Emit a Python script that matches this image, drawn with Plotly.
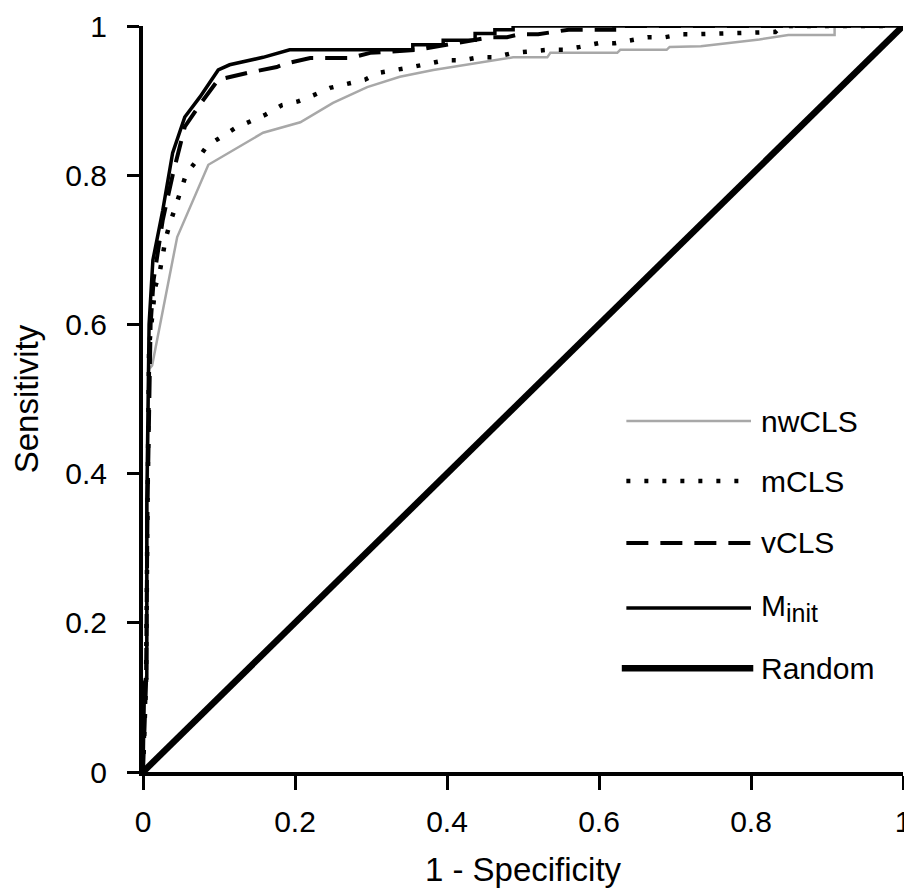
import plotly.graph_objects as go

# ---- data ----
x_ticks = [0, 0.2, 0.4, 0.6, 0.8, 1]
x_ticktext = ["0", "0.2", "0.4", "0.6", "0.8", "1"]
y_ticks = [0, 0.2, 0.4, 0.6, 0.8, 1]
y_ticktext = ["0", "0.2", "0.4", "0.6", "0.8", "1"]

series_names = ["nwCLS", "mCLS", "vCLS",
                'M<sub><span style="font-size:25px">init</span></sub>', "Random"]

fpr_nwcls = [0, 0.0, 0.005, 0.006, 0.008, 0.012, 0.039, 0.045, 0.086, 0.158, 0.207, 0.25, 0.295,
             0.338, 0.382, 0.426, 0.461, 0.487, 0.532, 0.536, 0.624, 0.628, 0.689, 0.693, 0.734,
             0.772, 0.811, 0.849, 0.91, 0.91, 1.0]
tpr_nwcls = [0, 0.12, 0.13, 0.36, 0.54, 0.545, 0.686, 0.717, 0.814, 0.857, 0.871, 0.897, 0.918,
             0.932, 0.941, 0.948, 0.954, 0.958, 0.958, 0.964, 0.964, 0.968, 0.968, 0.972, 0.973,
             0.977, 0.982, 0.988, 0.988, 1.0, 1.0]

fpr_mcls = [0, 0.004, 0.006, 0.008, 0.016, 0.022, 0.026, 0.030, 0.036, 0.057, 0.071, 0.084, 0.121,
            0.161, 0.183, 0.204, 0.224, 0.246, 0.292, 0.309, 0.354, 0.375, 0.397, 0.42, 0.441,
            0.463, 0.487, 0.532, 0.553, 0.575, 0.599, 0.621, 0.643, 0.664, 0.687, 0.709, 0.73,
            0.808, 0.832, 0.84, 1.0]
tpr_mcls = [0, 0.12, 0.36, 0.57, 0.650, 0.670, 0.693, 0.716, 0.737, 0.802, 0.820, 0.839, 0.863,
            0.881, 0.894, 0.899, 0.907, 0.917, 0.928, 0.937, 0.945, 0.950, 0.954, 0.954, 0.958,
            0.958, 0.964, 0.968, 0.968, 0.972, 0.977, 0.977, 0.981, 0.985, 0.985, 0.989, 0.989,
            0.992, 0.992, 1.0, 1.0]

fpr_vcls = [0, 0.004, 0.006, 0.010, 0.014, 0.026, 0.039, 0.055, 0.075, 0.099, 0.137, 0.176, 0.189,
            0.22, 0.272, 0.299, 0.36, 0.40, 0.43, 0.457, 0.479, 0.496, 0.52, 0.56, 0.62, 0.62, 1.0]
tpr_vcls = [0, 0.12, 0.36, 0.6, 0.66, 0.74, 0.80, 0.865, 0.895, 0.928, 0.937, 0.945, 0.950,
            0.957, 0.957, 0.964, 0.968, 0.975, 0.981, 0.985, 0.985, 0.989, 0.989, 0.995, 0.995, 1.0, 1.0]

fpr_minit = [0, 0.002, 0.005, 0.005, 0.008, 0.013, 0.026, 0.039, 0.055, 0.075, 0.099, 0.114, 0.158,
             0.193, 0.355, 0.355, 0.395, 0.395, 0.437, 0.437, 0.463, 0.463, 0.487, 0.487, 1.0]
tpr_minit = [0, 0.12, 0.125, 0.36, 0.6, 0.686, 0.753, 0.830, 0.878, 0.905, 0.941, 0.948, 0.958,
             0.968, 0.968, 0.975, 0.975, 0.981, 0.981, 0.99, 0.99, 0.995, 0.995, 1.0, 1.0]

fpr_random = [0, 1]
tpr_random = [0, 1]

# ---- styles ----
FONT = "Arial, 'Liberation Sans', sans-serif"
styles = [
    dict(color="#a8a8a8", width=2.5, dash="solid"),
    dict(color="black", width=4.5, dash="4px,14px"),
    dict(color="black", width=4, dash="22px,12px"),
    dict(color="black", width=3.5, dash="solid"),
    dict(color="black", width=6.5, dash="solid"),
]
data_x = [fpr_nwcls, fpr_mcls, fpr_vcls, fpr_minit, fpr_random]
data_y = [tpr_nwcls, tpr_mcls, tpr_vcls, tpr_minit, tpr_random]

fig = go.Figure()
for name, xs, ys, st in zip(series_names, data_x, data_y, styles):
    fig.add_trace(go.Scatter(x=xs, y=ys, mode="lines", name=name, line=st,
                             cliponaxis=False, showlegend=False))

# ---- manual legend (long sample lines like the reference) ----
leg_y = [0.4705, 0.390, 0.307, 0.220, 0.139]
shapes = []
annotations = []
for i, (name, st) in enumerate(zip(series_names, styles)):
    x0, x1 = (0.630, 0.803) if i == 4 else (0.636, 0.80)
    shapes.append(dict(type="line", xref="paper", yref="paper", x0=x0, x1=x1,
                       y0=leg_y[i], y1=leg_y[i],
                       line=dict(color=st["color"], width=st["width"], dash=st["dash"])))
    annotations.append(dict(xref="paper", yref="paper", x=0.810, y=leg_y[i],
                            xanchor="left", yanchor="middle", showarrow=False,
                            text=name, font=dict(family=FONT, size=30, color="black")))

# the page body has an 8px default margin, so the figure is sized to fit the window
fig.update_layout(
    width=904, height=880,
    margin=dict(l=135, r=9, t=18, b=116),
    paper_bgcolor="white", plot_bgcolor="white",
    font=dict(family=FONT, size=30, color="black"),
    shapes=shapes, annotations=annotations,
    showlegend=False,
)
fig.update_xaxes(
    range=[0, 1], tickvals=x_ticks, ticktext=x_ticktext,
    showgrid=False, zeroline=False, showline=True, linecolor="black", linewidth=4,
    ticks="outside", ticklen=14, tickwidth=3, tickcolor="black",
    tickfont=dict(family=FONT, size=30), ticklabelstandoff=6,
    title=dict(text="1 - Specificity", font=dict(family=FONT, size=33), standoff=24),
    automargin=False,
)
fig.update_yaxes(
    range=[0, 1], tickvals=y_ticks, ticktext=y_ticktext,
    showgrid=False, zeroline=False, showline=True, linecolor="black", linewidth=4,
    ticks="outside", ticklen=12, tickwidth=3, tickcolor="black",
    tickfont=dict(family=FONT, size=30), ticklabelstandoff=14,
    title=dict(text="Sensitivity", font=dict(family=FONT, size=33), standoff=20),
    automargin=False,
)

fig.write_html("out.html")
